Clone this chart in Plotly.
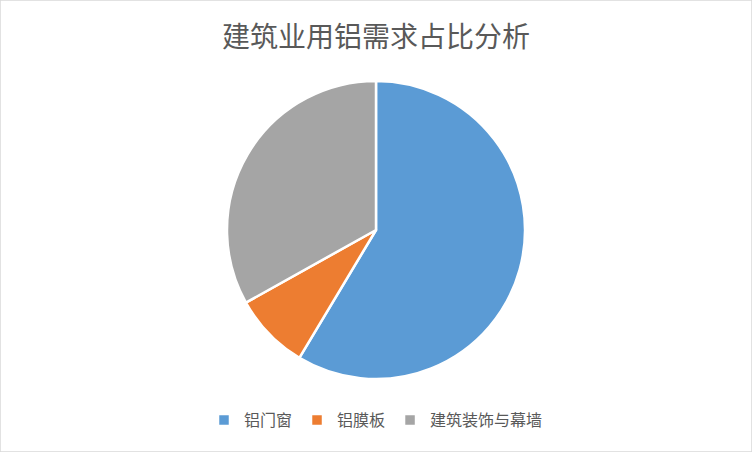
import plotly.graph_objects as go

labels = ["铝门窗", "铝膜板", "建筑装饰与幕墙"]
values = [58.6, 8.3, 33.1]
colors = ["#5B9BD5", "#ED7D31", "#A5A5A5"]
title = "建筑业用铝需求占比分析"

W, H = 752, 452
cx, cy, r = 376, 230, 149

fig = go.Figure(go.Pie(
    labels=labels, values=values, sort=False, direction="clockwise", rotation=0,
    marker=dict(colors=colors, line=dict(color="white", width=2.5)),
    textinfo="none", hoverinfo="label+percent",
    domain=dict(x=[(cx - r) / W, (cx + r) / W], y=[(H - cy - r) / H, (H - cy + r) / H]),
))

fig.update_layout(
    width=W, height=H, margin=dict(l=0, r=0, t=0, b=0),
    paper_bgcolor="white",
    font=dict(family="Noto Sans CJK SC", color="#595959"),
    title=dict(text=title, x=0.5, xanchor="center", y=1 - 37 / H, yanchor="middle",
               font=dict(size=28, color="#595959")),
    legend=dict(orientation="h", x=0.5, xanchor="center", y=1 - 420 / H, yanchor="middle",
                font=dict(size=16, color="#595959"), itemwidth=30),
    shapes=[dict(type="rect", xref="paper", yref="paper", x0=0, y0=0, x1=1, y1=1,
                 line=dict(color="#D9D9D9", width=1.5))],
)

fig.write_html("out.html", config={"displayModeBar": False})

# remove the browser's default page margin so the figure sits at (0, 0)
with open("out.html", encoding="utf-8") as f:
    html = f.read()
html = html.replace("<head>", "<head><style>html,body{margin:0;padding:0;overflow:hidden}</style>", 1)
with open("out.html", "w", encoding="utf-8") as f:
    f.write(html)
